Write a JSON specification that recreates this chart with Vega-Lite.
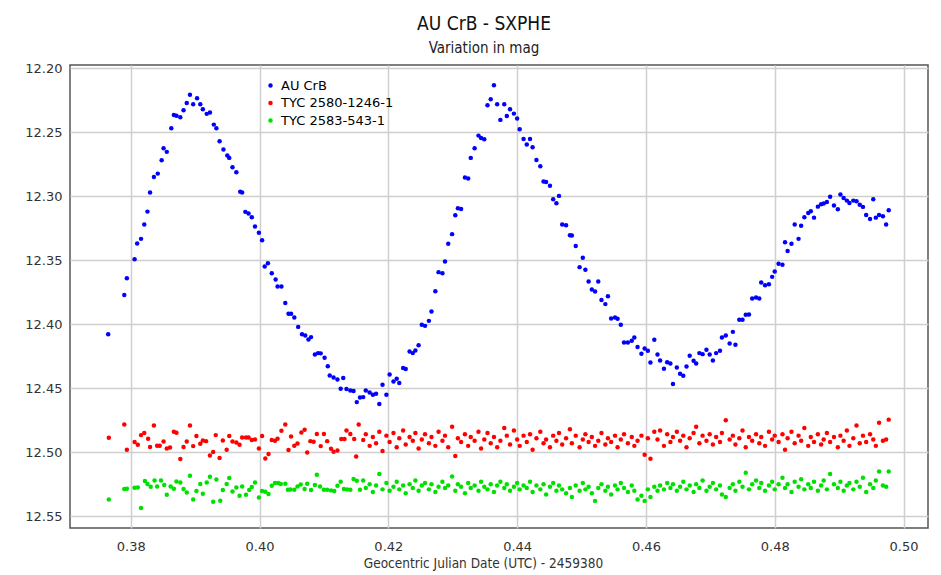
{
"$schema": "https://vega.github.io/schema/vega-lite/v6.json",
"width": 858, "height": 463,
"autosize": {"type": "none"},
"padding": {"left": 70, "top": 65, "right": 13, "bottom": 47},
"background": "white",
"config": {
  "font": "DejaVu Sans Condensed, DejaVu Sans, sans-serif",
  "view": {"stroke": "#555555", "strokeWidth": 1.5},
  "axis": {"domain": false, "ticks": false, "gridColor": "#cfcfcf", "gridWidth": 1.5, "labelFont": "DejaVu Sans", "labelFontSize": 13, "labelColor": "#333333", "titleFontSize": 13.5, "titleColor": "#333333", "titleFontWeight": "normal"},
  "legend": {"labelFont": "DejaVu Sans"}
},
"title": {"text": "AU CrB - SXPHE", "subtitle": "Variation in mag", "anchor": "middle", "dx": -15, "fontSize": 19, "fontWeight": "normal", "color": "#111111", "subtitleFontSize": 15, "subtitleColor": "#222222", "subtitlePadding": 7, "offset": 6},
"data": {"values": [
{"t":0.3765,"m":12.4077,"s":"AU CrB"},{"t":0.3790,"m":12.3770,"s":"AU CrB"},{"t":0.3794,"m":12.3639,"s":"AU CrB"},{"t":0.3806,"m":12.3491,"s":"AU CrB"},{"t":0.3810,"m":12.3369,"s":"AU CrB"},{"t":0.3816,"m":12.3332,"s":"AU CrB"},{"t":0.3821,"m":12.3220,"s":"AU CrB"},{"t":0.3826,"m":12.3119,"s":"AU CrB"},{"t":0.3830,"m":12.2970,"s":"AU CrB"},{"t":0.3836,"m":12.2848,"s":"AU CrB"},{"t":0.3842,"m":12.2822,"s":"AU CrB"},{"t":0.3848,"m":12.2717,"s":"AU CrB"},{"t":0.3851,"m":12.2623,"s":"AU CrB"},{"t":0.3856,"m":12.2652,"s":"AU CrB"},{"t":0.3863,"m":12.2467,"s":"AU CrB"},{"t":0.3867,"m":12.2363,"s":"AU CrB"},{"t":0.3871,"m":12.2369,"s":"AU CrB"},{"t":0.3877,"m":12.2381,"s":"AU CrB"},{"t":0.3882,"m":12.2327,"s":"AU CrB"},{"t":0.3887,"m":12.2270,"s":"AU CrB"},{"t":0.3892,"m":12.2205,"s":"AU CrB"},{"t":0.3897,"m":12.2280,"s":"AU CrB"},{"t":0.3903,"m":12.2233,"s":"AU CrB"},{"t":0.3908,"m":12.2280,"s":"AU CrB"},{"t":0.3912,"m":12.2319,"s":"AU CrB"},{"t":0.3918,"m":12.2355,"s":"AU CrB"},{"t":0.3923,"m":12.2345,"s":"AU CrB"},{"t":0.3929,"m":12.2439,"s":"AU CrB"},{"t":0.3933,"m":12.2467,"s":"AU CrB"},{"t":0.3938,"m":12.2569,"s":"AU CrB"},{"t":0.3944,"m":12.2634,"s":"AU CrB"},{"t":0.3950,"m":12.2681,"s":"AU CrB"},{"t":0.3953,"m":12.2699,"s":"AU CrB"},{"t":0.3958,"m":12.2772,"s":"AU CrB"},{"t":0.3964,"m":12.2811,"s":"AU CrB"},{"t":0.3970,"m":12.2963,"s":"AU CrB"},{"t":0.3973,"m":12.2970,"s":"AU CrB"},{"t":0.3978,"m":12.3121,"s":"AU CrB"},{"t":0.3983,"m":12.3134,"s":"AU CrB"},{"t":0.3988,"m":12.3163,"s":"AU CrB"},{"t":0.3993,"m":12.3236,"s":"AU CrB"},{"t":0.3999,"m":12.3285,"s":"AU CrB"},{"t":0.4004,"m":12.3342,"s":"AU CrB"},{"t":0.4008,"m":12.3548,"s":"AU CrB"},{"t":0.4013,"m":12.3522,"s":"AU CrB"},{"t":0.4019,"m":12.3600,"s":"AU CrB"},{"t":0.4025,"m":12.3650,"s":"AU CrB"},{"t":0.4028,"m":12.3705,"s":"AU CrB"},{"t":0.4034,"m":12.3705,"s":"AU CrB"},{"t":0.4040,"m":12.3834,"s":"AU CrB"},{"t":0.4045,"m":12.3918,"s":"AU CrB"},{"t":0.4049,"m":12.3918,"s":"AU CrB"},{"t":0.4054,"m":12.3947,"s":"AU CrB"},{"t":0.4060,"m":12.4020,"s":"AU CrB"},{"t":0.4066,"m":12.4077,"s":"AU CrB"},{"t":0.4071,"m":12.4088,"s":"AU CrB"},{"t":0.4076,"m":12.4119,"s":"AU CrB"},{"t":0.4080,"m":12.4100,"s":"AU CrB"},{"t":0.4086,"m":12.4236,"s":"AU CrB"},{"t":0.4091,"m":12.4225,"s":"AU CrB"},{"t":0.4095,"m":12.4227,"s":"AU CrB"},{"t":0.4101,"m":12.4262,"s":"AU CrB"},{"t":0.4106,"m":12.4327,"s":"AU CrB"},{"t":0.4109,"m":12.4400,"s":"AU CrB"},{"t":0.4115,"m":12.4416,"s":"AU CrB"},{"t":0.4121,"m":12.4431,"s":"AU CrB"},{"t":0.4126,"m":12.4504,"s":"AU CrB"},{"t":0.4130,"m":12.4420,"s":"AU CrB"},{"t":0.4135,"m":12.4506,"s":"AU CrB"},{"t":0.4141,"m":12.4517,"s":"AU CrB"},{"t":0.4146,"m":12.4522,"s":"AU CrB"},{"t":0.4151,"m":12.4608,"s":"AU CrB"},{"t":0.4156,"m":12.4572,"s":"AU CrB"},{"t":0.4161,"m":12.4569,"s":"AU CrB"},{"t":0.4165,"m":12.4517,"s":"AU CrB"},{"t":0.4171,"m":12.4533,"s":"AU CrB"},{"t":0.4176,"m":12.4551,"s":"AU CrB"},{"t":0.4181,"m":12.4543,"s":"AU CrB"},{"t":0.4186,"m":12.4623,"s":"AU CrB"},{"t":0.4191,"m":12.4473,"s":"AU CrB"},{"t":0.4197,"m":12.4551,"s":"AU CrB"},{"t":0.4202,"m":12.4392,"s":"AU CrB"},{"t":0.4208,"m":12.4447,"s":"AU CrB"},{"t":0.4213,"m":12.4426,"s":"AU CrB"},{"t":0.4217,"m":12.4459,"s":"AU CrB"},{"t":0.4223,"m":12.4342,"s":"AU CrB"},{"t":0.4227,"m":12.4350,"s":"AU CrB"},{"t":0.4233,"m":12.4213,"s":"AU CrB"},{"t":0.4238,"m":12.4225,"s":"AU CrB"},{"t":0.4242,"m":12.4205,"s":"AU CrB"},{"t":0.4247,"m":12.4163,"s":"AU CrB"},{"t":0.4252,"m":12.4004,"s":"AU CrB"},{"t":0.4257,"m":12.4012,"s":"AU CrB"},{"t":0.4263,"m":12.3973,"s":"AU CrB"},{"t":0.4267,"m":12.3900,"s":"AU CrB"},{"t":0.4273,"m":12.3741,"s":"AU CrB"},{"t":0.4278,"m":12.3592,"s":"AU CrB"},{"t":0.4284,"m":12.3600,"s":"AU CrB"},{"t":0.4288,"m":12.3509,"s":"AU CrB"},{"t":0.4293,"m":12.3371,"s":"AU CrB"},{"t":0.4299,"m":12.3295,"s":"AU CrB"},{"t":0.4304,"m":12.3147,"s":"AU CrB"},{"t":0.4308,"m":12.3092,"s":"AU CrB"},{"t":0.4313,"m":12.3098,"s":"AU CrB"},{"t":0.4319,"m":12.2853,"s":"AU CrB"},{"t":0.4324,"m":12.2861,"s":"AU CrB"},{"t":0.4328,"m":12.2699,"s":"AU CrB"},{"t":0.4334,"m":12.2623,"s":"AU CrB"},{"t":0.4340,"m":12.2525,"s":"AU CrB"},{"t":0.4344,"m":12.2543,"s":"AU CrB"},{"t":0.4349,"m":12.2553,"s":"AU CrB"},{"t":0.4354,"m":12.2288,"s":"AU CrB"},{"t":0.4359,"m":12.2241,"s":"AU CrB"},{"t":0.4364,"m":12.2131,"s":"AU CrB"},{"t":0.4369,"m":12.2280,"s":"AU CrB"},{"t":0.4374,"m":12.2402,"s":"AU CrB"},{"t":0.4380,"m":12.2280,"s":"AU CrB"},{"t":0.4384,"m":12.2371,"s":"AU CrB"},{"t":0.4389,"m":12.2319,"s":"AU CrB"},{"t":0.4395,"m":12.2353,"s":"AU CrB"},{"t":0.4400,"m":12.2392,"s":"AU CrB"},{"t":0.4404,"m":12.2475,"s":"AU CrB"},{"t":0.4410,"m":12.2551,"s":"AU CrB"},{"t":0.4415,"m":12.2595,"s":"AU CrB"},{"t":0.4420,"m":12.2551,"s":"AU CrB"},{"t":0.4424,"m":12.2616,"s":"AU CrB"},{"t":0.4430,"m":12.2715,"s":"AU CrB"},{"t":0.4436,"m":12.2764,"s":"AU CrB"},{"t":0.4441,"m":12.2884,"s":"AU CrB"},{"t":0.4445,"m":12.2887,"s":"AU CrB"},{"t":0.4451,"m":12.2916,"s":"AU CrB"},{"t":0.4456,"m":12.3022,"s":"AU CrB"},{"t":0.4461,"m":12.3053,"s":"AU CrB"},{"t":0.4465,"m":12.2996,"s":"AU CrB"},{"t":0.4470,"m":12.3220,"s":"AU CrB"},{"t":0.4476,"m":12.3225,"s":"AU CrB"},{"t":0.4482,"m":12.3303,"s":"AU CrB"},{"t":0.4485,"m":12.3306,"s":"AU CrB"},{"t":0.4491,"m":12.3387,"s":"AU CrB"},{"t":0.4497,"m":12.3553,"s":"AU CrB"},{"t":0.4502,"m":12.3480,"s":"AU CrB"},{"t":0.4506,"m":12.3574,"s":"AU CrB"},{"t":0.4511,"m":12.3666,"s":"AU CrB"},{"t":0.4516,"m":12.3728,"s":"AU CrB"},{"t":0.4521,"m":12.3744,"s":"AU CrB"},{"t":0.4526,"m":12.3666,"s":"AU CrB"},{"t":0.4531,"m":12.3809,"s":"AU CrB"},{"t":0.4537,"m":12.3842,"s":"AU CrB"},{"t":0.4541,"m":12.3780,"s":"AU CrB"},{"t":0.4546,"m":12.3955,"s":"AU CrB"},{"t":0.4552,"m":12.3947,"s":"AU CrB"},{"t":0.4556,"m":12.3957,"s":"AU CrB"},{"t":0.4561,"m":12.4004,"s":"AU CrB"},{"t":0.4566,"m":12.4142,"s":"AU CrB"},{"t":0.4572,"m":12.4142,"s":"AU CrB"},{"t":0.4578,"m":12.4129,"s":"AU CrB"},{"t":0.4582,"m":12.4103,"s":"AU CrB"},{"t":0.4587,"m":12.4178,"s":"AU CrB"},{"t":0.4593,"m":12.4230,"s":"AU CrB"},{"t":0.4598,"m":12.4189,"s":"AU CrB"},{"t":0.4603,"m":12.4207,"s":"AU CrB"},{"t":0.4607,"m":12.4298,"s":"AU CrB"},{"t":0.4613,"m":12.4121,"s":"AU CrB"},{"t":0.4618,"m":12.4236,"s":"AU CrB"},{"t":0.4622,"m":12.4283,"s":"AU CrB"},{"t":0.4628,"m":12.4348,"s":"AU CrB"},{"t":0.4633,"m":12.4297,"s":"AU CrB"},{"t":0.4638,"m":12.4306,"s":"AU CrB"},{"t":0.4642,"m":12.4467,"s":"AU CrB"},{"t":0.4648,"m":12.4338,"s":"AU CrB"},{"t":0.4653,"m":12.4387,"s":"AU CrB"},{"t":0.4658,"m":12.4402,"s":"AU CrB"},{"t":0.4663,"m":12.4330,"s":"AU CrB"},{"t":0.4668,"m":12.4246,"s":"AU CrB"},{"t":0.4674,"m":12.4285,"s":"AU CrB"},{"t":0.4678,"m":12.4306,"s":"AU CrB"},{"t":0.4683,"m":12.4225,"s":"AU CrB"},{"t":0.4688,"m":12.4233,"s":"AU CrB"},{"t":0.4694,"m":12.4199,"s":"AU CrB"},{"t":0.4699,"m":12.4236,"s":"AU CrB"},{"t":0.4704,"m":12.4283,"s":"AU CrB"},{"t":0.4709,"m":12.4225,"s":"AU CrB"},{"t":0.4715,"m":12.4207,"s":"AU CrB"},{"t":0.4718,"m":12.4103,"s":"AU CrB"},{"t":0.4724,"m":12.4088,"s":"AU CrB"},{"t":0.4730,"m":12.4150,"s":"AU CrB"},{"t":0.4735,"m":12.4059,"s":"AU CrB"},{"t":0.4739,"m":12.4160,"s":"AU CrB"},{"t":0.4745,"m":12.3965,"s":"AU CrB"},{"t":0.4750,"m":12.3965,"s":"AU CrB"},{"t":0.4755,"m":12.3926,"s":"AU CrB"},{"t":0.4760,"m":12.3923,"s":"AU CrB"},{"t":0.4765,"m":12.3798,"s":"AU CrB"},{"t":0.4771,"m":12.3791,"s":"AU CrB"},{"t":0.4776,"m":12.3798,"s":"AU CrB"},{"t":0.4779,"m":12.3673,"s":"AU CrB"},{"t":0.4785,"m":12.3694,"s":"AU CrB"},{"t":0.4791,"m":12.3686,"s":"AU CrB"},{"t":0.4796,"m":12.3629,"s":"AU CrB"},{"t":0.4800,"m":12.3587,"s":"AU CrB"},{"t":0.4806,"m":12.3527,"s":"AU CrB"},{"t":0.4812,"m":12.3535,"s":"AU CrB"},{"t":0.4816,"m":12.3358,"s":"AU CrB"},{"t":0.4820,"m":12.3426,"s":"AU CrB"},{"t":0.4826,"m":12.3371,"s":"AU CrB"},{"t":0.4831,"m":12.3220,"s":"AU CrB"},{"t":0.4837,"m":12.3332,"s":"AU CrB"},{"t":0.4841,"m":12.3230,"s":"AU CrB"},{"t":0.4846,"m":12.3163,"s":"AU CrB"},{"t":0.4852,"m":12.3129,"s":"AU CrB"},{"t":0.4856,"m":12.3116,"s":"AU CrB"},{"t":0.4861,"m":12.3166,"s":"AU CrB"},{"t":0.4867,"m":12.3080,"s":"AU CrB"},{"t":0.4872,"m":12.3061,"s":"AU CrB"},{"t":0.4876,"m":12.3056,"s":"AU CrB"},{"t":0.4881,"m":12.3043,"s":"AU CrB"},{"t":0.4886,"m":12.3002,"s":"AU CrB"},{"t":0.4892,"m":12.3072,"s":"AU CrB"},{"t":0.4898,"m":12.3100,"s":"AU CrB"},{"t":0.4902,"m":12.2986,"s":"AU CrB"},{"t":0.4907,"m":12.3012,"s":"AU CrB"},{"t":0.4912,"m":12.3033,"s":"AU CrB"},{"t":0.4916,"m":12.3051,"s":"AU CrB"},{"t":0.4922,"m":12.3033,"s":"AU CrB"},{"t":0.4927,"m":12.3038,"s":"AU CrB"},{"t":0.4932,"m":12.3066,"s":"AU CrB"},{"t":0.4937,"m":12.3082,"s":"AU CrB"},{"t":0.4942,"m":12.3145,"s":"AU CrB"},{"t":0.4948,"m":12.3176,"s":"AU CrB"},{"t":0.4953,"m":12.3022,"s":"AU CrB"},{"t":0.4957,"m":12.3166,"s":"AU CrB"},{"t":0.4962,"m":12.3145,"s":"AU CrB"},{"t":0.4968,"m":12.3155,"s":"AU CrB"},{"t":0.4973,"m":12.3220,"s":"AU CrB"},{"t":0.4977,"m":12.3108,"s":"AU CrB"},
{"t":0.3766,"m":12.4887,"s":"TYC 2580-1246-1"},{"t":0.3790,"m":12.4783,"s":"TYC 2580-1246-1"},{"t":0.3794,"m":12.4980,"s":"TYC 2580-1246-1"},{"t":0.3806,"m":12.4920,"s":"TYC 2580-1246-1"},{"t":0.3811,"m":12.4941,"s":"TYC 2580-1246-1"},{"t":0.3816,"m":12.4866,"s":"TYC 2580-1246-1"},{"t":0.3821,"m":12.4850,"s":"TYC 2580-1246-1"},{"t":0.3827,"m":12.4895,"s":"TYC 2580-1246-1"},{"t":0.3830,"m":12.4959,"s":"TYC 2580-1246-1"},{"t":0.3836,"m":12.4791,"s":"TYC 2580-1246-1"},{"t":0.3841,"m":12.4949,"s":"TYC 2580-1246-1"},{"t":0.3845,"m":12.4949,"s":"TYC 2580-1246-1"},{"t":0.3851,"m":12.4916,"s":"TYC 2580-1246-1"},{"t":0.3856,"m":12.4970,"s":"TYC 2580-1246-1"},{"t":0.3861,"m":12.4963,"s":"TYC 2580-1246-1"},{"t":0.3867,"m":12.4840,"s":"TYC 2580-1246-1"},{"t":0.3871,"m":12.4848,"s":"TYC 2580-1246-1"},{"t":0.3877,"m":12.5053,"s":"TYC 2580-1246-1"},{"t":0.3882,"m":12.4959,"s":"TYC 2580-1246-1"},{"t":0.3887,"m":12.4916,"s":"TYC 2580-1246-1"},{"t":0.3892,"m":12.4791,"s":"TYC 2580-1246-1"},{"t":0.3897,"m":12.4952,"s":"TYC 2580-1246-1"},{"t":0.3902,"m":12.4873,"s":"TYC 2580-1246-1"},{"t":0.3908,"m":12.4934,"s":"TYC 2580-1246-1"},{"t":0.3912,"m":12.4908,"s":"TYC 2580-1246-1"},{"t":0.3917,"m":12.4913,"s":"TYC 2580-1246-1"},{"t":0.3923,"m":12.5025,"s":"TYC 2580-1246-1"},{"t":0.3928,"m":12.4998,"s":"TYC 2580-1246-1"},{"t":0.3932,"m":12.4866,"s":"TYC 2580-1246-1"},{"t":0.3938,"m":12.5045,"s":"TYC 2580-1246-1"},{"t":0.3943,"m":12.4908,"s":"TYC 2580-1246-1"},{"t":0.3949,"m":12.4980,"s":"TYC 2580-1246-1"},{"t":0.3953,"m":12.4873,"s":"TYC 2580-1246-1"},{"t":0.3958,"m":12.4916,"s":"TYC 2580-1246-1"},{"t":0.3964,"m":12.4923,"s":"TYC 2580-1246-1"},{"t":0.3969,"m":12.4941,"s":"TYC 2580-1246-1"},{"t":0.3973,"m":12.4884,"s":"TYC 2580-1246-1"},{"t":0.3979,"m":12.4884,"s":"TYC 2580-1246-1"},{"t":0.3983,"m":12.4884,"s":"TYC 2580-1246-1"},{"t":0.3988,"m":12.4905,"s":"TYC 2580-1246-1"},{"t":0.3993,"m":12.4900,"s":"TYC 2580-1246-1"},{"t":0.3999,"m":12.4970,"s":"TYC 2580-1246-1"},{"t":0.4004,"m":12.4873,"s":"TYC 2580-1246-1"},{"t":0.4009,"m":12.5048,"s":"TYC 2580-1246-1"},{"t":0.4014,"m":12.5014,"s":"TYC 2580-1246-1"},{"t":0.4019,"m":12.4905,"s":"TYC 2580-1246-1"},{"t":0.4024,"m":12.4910,"s":"TYC 2580-1246-1"},{"t":0.4028,"m":12.4895,"s":"TYC 2580-1246-1"},{"t":0.4034,"m":12.4832,"s":"TYC 2580-1246-1"},{"t":0.4040,"m":12.4783,"s":"TYC 2580-1246-1"},{"t":0.4045,"m":12.4983,"s":"TYC 2580-1246-1"},{"t":0.4049,"m":12.4877,"s":"TYC 2580-1246-1"},{"t":0.4054,"m":12.4949,"s":"TYC 2580-1246-1"},{"t":0.4059,"m":12.4931,"s":"TYC 2580-1246-1"},{"t":0.4065,"m":12.4845,"s":"TYC 2580-1246-1"},{"t":0.4070,"m":12.4824,"s":"TYC 2580-1246-1"},{"t":0.4074,"m":12.5002,"s":"TYC 2580-1246-1"},{"t":0.4079,"m":12.4913,"s":"TYC 2580-1246-1"},{"t":0.4084,"m":12.4918,"s":"TYC 2580-1246-1"},{"t":0.4089,"m":12.4858,"s":"TYC 2580-1246-1"},{"t":0.4095,"m":12.4952,"s":"TYC 2580-1246-1"},{"t":0.4100,"m":12.4858,"s":"TYC 2580-1246-1"},{"t":0.4105,"m":12.4913,"s":"TYC 2580-1246-1"},{"t":0.4111,"m":12.4973,"s":"TYC 2580-1246-1"},{"t":0.4115,"m":12.4996,"s":"TYC 2580-1246-1"},{"t":0.4121,"m":12.4986,"s":"TYC 2580-1246-1"},{"t":0.4127,"m":12.4897,"s":"TYC 2580-1246-1"},{"t":0.4132,"m":12.4897,"s":"TYC 2580-1246-1"},{"t":0.4135,"m":12.4830,"s":"TYC 2580-1246-1"},{"t":0.4141,"m":12.4858,"s":"TYC 2580-1246-1"},{"t":0.4147,"m":12.4897,"s":"TYC 2580-1246-1"},{"t":0.4150,"m":12.5033,"s":"TYC 2580-1246-1"},{"t":0.4154,"m":12.4783,"s":"TYC 2580-1246-1"},
{"t":0.4161,"m":12.4905,"s":"TYC 2580-1246-1"},{"t":0.4165,"m":12.4860,"s":"TYC 2580-1246-1"},{"t":0.4171,"m":12.4950,"s":"TYC 2580-1246-1"},{"t":0.4176,"m":12.4880,"s":"TYC 2580-1246-1"},{"t":0.4181,"m":12.4930,"s":"TYC 2580-1246-1"},{"t":0.4186,"m":12.4840,"s":"TYC 2580-1246-1"},{"t":0.4191,"m":12.4990,"s":"TYC 2580-1246-1"},{"t":0.4197,"m":12.4870,"s":"TYC 2580-1246-1"},{"t":0.4202,"m":12.4920,"s":"TYC 2580-1246-1"},{"t":0.4208,"m":12.4850,"s":"TYC 2580-1246-1"},
{"t":0.4213,"m":12.4960,"s":"TYC 2580-1246-1"},{"t":0.4217,"m":12.4890,"s":"TYC 2580-1246-1"},{"t":0.4223,"m":12.4830,"s":"TYC 2580-1246-1"},{"t":0.4227,"m":12.4940,"s":"TYC 2580-1246-1"},{"t":0.4233,"m":12.4880,"s":"TYC 2580-1246-1"},{"t":0.4238,"m":12.4910,"s":"TYC 2580-1246-1"},{"t":0.4242,"m":12.4850,"s":"TYC 2580-1246-1"},{"t":0.4247,"m":12.4970,"s":"TYC 2580-1246-1"},{"t":0.4252,"m":12.4900,"s":"TYC 2580-1246-1"},{"t":0.4257,"m":12.4860,"s":"TYC 2580-1246-1"},
{"t":0.4263,"m":12.4930,"s":"TYC 2580-1246-1"},{"t":0.4267,"m":12.4880,"s":"TYC 2580-1246-1"},{"t":0.4273,"m":12.4950,"s":"TYC 2580-1246-1"},{"t":0.4278,"m":12.4840,"s":"TYC 2580-1246-1"},{"t":0.4284,"m":12.4910,"s":"TYC 2580-1246-1"},{"t":0.4288,"m":12.4870,"s":"TYC 2580-1246-1"},{"t":0.4293,"m":12.4960,"s":"TYC 2580-1246-1"},{"t":0.4299,"m":12.4800,"s":"TYC 2580-1246-1"},{"t":0.4304,"m":12.5030,"s":"TYC 2580-1246-1"},{"t":0.4308,"m":12.4890,"s":"TYC 2580-1246-1"},
{"t":0.4313,"m":12.4920,"s":"TYC 2580-1246-1"},{"t":0.4319,"m":12.4860,"s":"TYC 2580-1246-1"},{"t":0.4324,"m":12.4950,"s":"TYC 2580-1246-1"},{"t":0.4328,"m":12.4880,"s":"TYC 2580-1246-1"},{"t":0.4334,"m":12.4910,"s":"TYC 2580-1246-1"},{"t":0.4340,"m":12.4840,"s":"TYC 2580-1246-1"},{"t":0.4344,"m":12.4970,"s":"TYC 2580-1246-1"},{"t":0.4349,"m":12.4900,"s":"TYC 2580-1246-1"},{"t":0.4354,"m":12.4850,"s":"TYC 2580-1246-1"},{"t":0.4359,"m":12.4930,"s":"TYC 2580-1246-1"},
{"t":0.4364,"m":12.4880,"s":"TYC 2580-1246-1"},{"t":0.4369,"m":12.4960,"s":"TYC 2580-1246-1"},{"t":0.4374,"m":12.4910,"s":"TYC 2580-1246-1"},{"t":0.4380,"m":12.4810,"s":"TYC 2580-1246-1"},{"t":0.4384,"m":12.4870,"s":"TYC 2580-1246-1"},{"t":0.4389,"m":12.4940,"s":"TYC 2580-1246-1"},{"t":0.4395,"m":12.4830,"s":"TYC 2580-1246-1"},{"t":0.4400,"m":12.4900,"s":"TYC 2580-1246-1"},{"t":0.4404,"m":12.4950,"s":"TYC 2580-1246-1"},{"t":0.4410,"m":12.4870,"s":"TYC 2580-1246-1"},
{"t":0.4415,"m":12.4920,"s":"TYC 2580-1246-1"},{"t":0.4420,"m":12.4860,"s":"TYC 2580-1246-1"},{"t":0.4424,"m":12.4980,"s":"TYC 2580-1246-1"},{"t":0.4430,"m":12.4890,"s":"TYC 2580-1246-1"},{"t":0.4436,"m":12.4840,"s":"TYC 2580-1246-1"},{"t":0.4441,"m":12.4930,"s":"TYC 2580-1246-1"},{"t":0.4445,"m":12.4900,"s":"TYC 2580-1246-1"},{"t":0.4451,"m":12.4960,"s":"TYC 2580-1246-1"},{"t":0.4456,"m":12.4870,"s":"TYC 2580-1246-1"},{"t":0.4461,"m":12.4910,"s":"TYC 2580-1246-1"},
{"t":0.4465,"m":12.4850,"s":"TYC 2580-1246-1"},{"t":0.4470,"m":12.4940,"s":"TYC 2580-1246-1"},{"t":0.4476,"m":12.4890,"s":"TYC 2580-1246-1"},{"t":0.4482,"m":12.4820,"s":"TYC 2580-1246-1"},{"t":0.4485,"m":12.4930,"s":"TYC 2580-1246-1"},{"t":0.4491,"m":12.4870,"s":"TYC 2580-1246-1"},{"t":0.4497,"m":12.4960,"s":"TYC 2580-1246-1"},{"t":0.4502,"m":12.4900,"s":"TYC 2580-1246-1"},{"t":0.4506,"m":12.4860,"s":"TYC 2580-1246-1"},{"t":0.4511,"m":12.4920,"s":"TYC 2580-1246-1"},
{"t":0.4516,"m":12.4880,"s":"TYC 2580-1246-1"},{"t":0.4521,"m":12.4950,"s":"TYC 2580-1246-1"},{"t":0.4526,"m":12.4910,"s":"TYC 2580-1246-1"},{"t":0.4531,"m":12.4850,"s":"TYC 2580-1246-1"},{"t":0.4537,"m":12.4940,"s":"TYC 2580-1246-1"},{"t":0.4541,"m":12.4890,"s":"TYC 2580-1246-1"},{"t":0.4546,"m":12.4920,"s":"TYC 2580-1246-1"},{"t":0.4552,"m":12.4870,"s":"TYC 2580-1246-1"},{"t":0.4556,"m":12.4960,"s":"TYC 2580-1246-1"},{"t":0.4561,"m":12.4900,"s":"TYC 2580-1246-1"},
{"t":0.4566,"m":12.4860,"s":"TYC 2580-1246-1"},{"t":0.4572,"m":12.4930,"s":"TYC 2580-1246-1"},{"t":0.4578,"m":12.4880,"s":"TYC 2580-1246-1"},{"t":0.4582,"m":12.4950,"s":"TYC 2580-1246-1"},{"t":0.4587,"m":12.4910,"s":"TYC 2580-1246-1"},{"t":0.4593,"m":12.4870,"s":"TYC 2580-1246-1"},{"t":0.4598,"m":12.5020,"s":"TYC 2580-1246-1"},{"t":0.4603,"m":12.4890,"s":"TYC 2580-1246-1"},{"t":0.4607,"m":12.5050,"s":"TYC 2580-1246-1"},{"t":0.4613,"m":12.4840,"s":"TYC 2580-1246-1"},
{"t":0.4618,"m":12.4900,"s":"TYC 2580-1246-1"},{"t":0.4622,"m":12.4830,"s":"TYC 2580-1246-1"},{"t":0.4628,"m":12.4950,"s":"TYC 2580-1246-1"},{"t":0.4633,"m":12.4860,"s":"TYC 2580-1246-1"},{"t":0.4638,"m":12.4920,"s":"TYC 2580-1246-1"},{"t":0.4642,"m":12.4880,"s":"TYC 2580-1246-1"},{"t":0.4648,"m":12.4840,"s":"TYC 2580-1246-1"},{"t":0.4653,"m":12.4910,"s":"TYC 2580-1246-1"},{"t":0.4658,"m":12.4870,"s":"TYC 2580-1246-1"},{"t":0.4663,"m":12.4960,"s":"TYC 2580-1246-1"},
{"t":0.4668,"m":12.4890,"s":"TYC 2580-1246-1"},{"t":0.4674,"m":12.4850,"s":"TYC 2580-1246-1"},{"t":0.4678,"m":12.4800,"s":"TYC 2580-1246-1"},{"t":0.4683,"m":12.4930,"s":"TYC 2580-1246-1"},{"t":0.4688,"m":12.4870,"s":"TYC 2580-1246-1"},{"t":0.4694,"m":12.4910,"s":"TYC 2580-1246-1"},{"t":0.4699,"m":12.4860,"s":"TYC 2580-1246-1"},{"t":0.4704,"m":12.4940,"s":"TYC 2580-1246-1"},{"t":0.4709,"m":12.4880,"s":"TYC 2580-1246-1"},{"t":0.4715,"m":12.4920,"s":"TYC 2580-1246-1"},
{"t":0.4718,"m":12.4850,"s":"TYC 2580-1246-1"},{"t":0.4724,"m":12.4750,"s":"TYC 2580-1246-1"},{"t":0.4730,"m":12.4900,"s":"TYC 2580-1246-1"},{"t":0.4735,"m":12.4870,"s":"TYC 2580-1246-1"},{"t":0.4739,"m":12.4940,"s":"TYC 2580-1246-1"},{"t":0.4745,"m":12.4890,"s":"TYC 2580-1246-1"},{"t":0.4750,"m":12.4830,"s":"TYC 2580-1246-1"},{"t":0.4755,"m":12.4960,"s":"TYC 2580-1246-1"},{"t":0.4760,"m":12.4880,"s":"TYC 2580-1246-1"},{"t":0.4765,"m":12.4910,"s":"TYC 2580-1246-1"},
{"t":0.4771,"m":12.4860,"s":"TYC 2580-1246-1"},{"t":0.4776,"m":12.4930,"s":"TYC 2580-1246-1"},{"t":0.4779,"m":12.4880,"s":"TYC 2580-1246-1"},{"t":0.4785,"m":12.4950,"s":"TYC 2580-1246-1"},{"t":0.4791,"m":12.4840,"s":"TYC 2580-1246-1"},{"t":0.4796,"m":12.4900,"s":"TYC 2580-1246-1"},{"t":0.4800,"m":12.4870,"s":"TYC 2580-1246-1"},{"t":0.4806,"m":12.4920,"s":"TYC 2580-1246-1"},{"t":0.4812,"m":12.4860,"s":"TYC 2580-1246-1"},{"t":0.4816,"m":12.4980,"s":"TYC 2580-1246-1"},
{"t":0.4820,"m":12.4890,"s":"TYC 2580-1246-1"},{"t":0.4826,"m":12.4840,"s":"TYC 2580-1246-1"},{"t":0.4831,"m":12.4930,"s":"TYC 2580-1246-1"},{"t":0.4837,"m":12.4870,"s":"TYC 2580-1246-1"},{"t":0.4841,"m":12.4910,"s":"TYC 2580-1246-1"},{"t":0.4846,"m":12.4810,"s":"TYC 2580-1246-1"},{"t":0.4852,"m":12.4950,"s":"TYC 2580-1246-1"},{"t":0.4856,"m":12.4880,"s":"TYC 2580-1246-1"},{"t":0.4861,"m":12.4920,"s":"TYC 2580-1246-1"},{"t":0.4867,"m":12.4860,"s":"TYC 2580-1246-1"},
{"t":0.4872,"m":12.4940,"s":"TYC 2580-1246-1"},{"t":0.4876,"m":12.4900,"s":"TYC 2580-1246-1"},{"t":0.4881,"m":12.4850,"s":"TYC 2580-1246-1"},{"t":0.4886,"m":12.4920,"s":"TYC 2580-1246-1"},{"t":0.4892,"m":12.4880,"s":"TYC 2580-1246-1"},{"t":0.4898,"m":12.4960,"s":"TYC 2580-1246-1"},{"t":0.4902,"m":12.4870,"s":"TYC 2580-1246-1"},{"t":0.4907,"m":12.4910,"s":"TYC 2580-1246-1"},{"t":0.4912,"m":12.4830,"s":"TYC 2580-1246-1"},{"t":0.4916,"m":12.4950,"s":"TYC 2580-1246-1"},
{"t":0.4922,"m":12.4890,"s":"TYC 2580-1246-1"},{"t":0.4927,"m":12.4790,"s":"TYC 2580-1246-1"},{"t":0.4932,"m":12.4930,"s":"TYC 2580-1246-1"},{"t":0.4937,"m":12.4870,"s":"TYC 2580-1246-1"},{"t":0.4942,"m":12.4920,"s":"TYC 2580-1246-1"},{"t":0.4948,"m":12.4860,"s":"TYC 2580-1246-1"},{"t":0.4953,"m":12.4900,"s":"TYC 2580-1246-1"},{"t":0.4957,"m":12.4950,"s":"TYC 2580-1246-1"},{"t":0.4962,"m":12.4770,"s":"TYC 2580-1246-1"},{"t":0.4968,"m":12.4910,"s":"TYC 2580-1246-1"},{"t":0.4973,"m":12.4900,"s":"TYC 2580-1246-1"},{"t":0.4977,"m":12.4745,"s":"TYC 2580-1246-1"},
{"t":0.3766,"m":12.5369,"s":"TYC 2583-543-1"},{"t":0.3790,"m":12.5288,"s":"TYC 2583-543-1"},{"t":0.3794,"m":12.5285,"s":"TYC 2583-543-1"},{"t":0.3806,"m":12.5277,"s":"TYC 2583-543-1"},{"t":0.3811,"m":12.5275,"s":"TYC 2583-543-1"},{"t":0.3816,"m":12.5436,"s":"TYC 2583-543-1"},{"t":0.3822,"m":12.5225,"s":"TYC 2583-543-1"},{"t":0.3826,"m":12.5248,"s":"TYC 2583-543-1"},{"t":0.3831,"m":12.5270,"s":"TYC 2583-543-1"},{"t":0.3837,"m":12.5220,"s":"TYC 2583-543-1"},{"t":0.3841,"m":12.5267,"s":"TYC 2583-543-1"},{"t":0.3847,"m":12.5220,"s":"TYC 2583-543-1"},{"t":0.3852,"m":12.5256,"s":"TYC 2583-543-1"},{"t":0.3856,"m":12.5332,"s":"TYC 2583-543-1"},{"t":0.3862,"m":12.5267,"s":"TYC 2583-543-1"},{"t":0.3867,"m":12.5285,"s":"TYC 2583-543-1"},{"t":0.3871,"m":12.5228,"s":"TYC 2583-543-1"},{"t":0.3877,"m":12.5236,"s":"TYC 2583-543-1"},{"t":0.3882,"m":12.5288,"s":"TYC 2583-543-1"},{"t":0.3887,"m":12.5314,"s":"TYC 2583-543-1"},{"t":0.3892,"m":12.5184,"s":"TYC 2583-543-1"},{"t":0.3897,"m":12.5369,"s":"TYC 2583-543-1"},{"t":0.3902,"m":12.5303,"s":"TYC 2583-543-1"},{"t":0.3908,"m":12.5248,"s":"TYC 2583-543-1"},{"t":0.3912,"m":12.5324,"s":"TYC 2583-543-1"},{"t":0.3918,"m":12.5236,"s":"TYC 2583-543-1"},{"t":0.3923,"m":12.5191,"s":"TYC 2583-543-1"},{"t":0.3928,"m":12.5387,"s":"TYC 2583-543-1"},{"t":0.3933,"m":12.5213,"s":"TYC 2583-543-1"},{"t":0.3939,"m":12.5379,"s":"TYC 2583-543-1"},{"t":0.3943,"m":12.5295,"s":"TYC 2583-543-1"},{"t":0.3949,"m":12.5248,"s":"TYC 2583-543-1"},{"t":0.3953,"m":12.5202,"s":"TYC 2583-543-1"},{"t":0.3958,"m":12.5306,"s":"TYC 2583-543-1"},{"t":0.3964,"m":12.5275,"s":"TYC 2583-543-1"},{"t":0.3969,"m":12.5340,"s":"TYC 2583-543-1"},{"t":0.3973,"m":12.5267,"s":"TYC 2583-543-1"},{"t":0.3979,"m":12.5332,"s":"TYC 2583-543-1"},{"t":0.3984,"m":12.5295,"s":"TYC 2583-543-1"},{"t":0.3988,"m":12.5272,"s":"TYC 2583-543-1"},{"t":0.3993,"m":12.5236,"s":"TYC 2583-543-1"},{"t":0.3999,"m":12.5353,"s":"TYC 2583-543-1"},{"t":0.4004,"m":12.5303,"s":"TYC 2583-543-1"},{"t":0.4009,"m":12.5309,"s":"TYC 2583-543-1"},{"t":0.4014,"m":12.5327,"s":"TYC 2583-543-1"},{"t":0.4019,"m":12.5262,"s":"TYC 2583-543-1"},{"t":0.4024,"m":12.5241,"s":"TYC 2583-543-1"},{"t":0.4029,"m":12.5241,"s":"TYC 2583-543-1"},{"t":0.4033,"m":12.5248,"s":"TYC 2583-543-1"},{"t":0.4040,"m":12.5246,"s":"TYC 2583-543-1"},{"t":0.4044,"m":12.5293,"s":"TYC 2583-543-1"},{"t":0.4048,"m":12.5291,"s":"TYC 2583-543-1"},{"t":0.4054,"m":12.5293,"s":"TYC 2583-543-1"},{"t":0.4059,"m":12.5267,"s":"TYC 2583-543-1"},{"t":0.4064,"m":12.5252,"s":"TYC 2583-543-1"},{"t":0.4070,"m":12.5288,"s":"TYC 2583-543-1"},{"t":0.4074,"m":12.5246,"s":"TYC 2583-543-1"},{"t":0.4080,"m":12.5295,"s":"TYC 2583-543-1"},{"t":0.4086,"m":12.5256,"s":"TYC 2583-543-1"},{"t":0.4089,"m":12.5176,"s":"TYC 2583-543-1"},{"t":0.4094,"m":12.5267,"s":"TYC 2583-543-1"},{"t":0.4100,"m":12.5293,"s":"TYC 2583-543-1"},{"t":0.4105,"m":12.5293,"s":"TYC 2583-543-1"},{"t":0.4111,"m":12.5298,"s":"TYC 2583-543-1"},{"t":0.4116,"m":12.5303,"s":"TYC 2583-543-1"},{"t":0.4121,"m":12.5262,"s":"TYC 2583-543-1"},{"t":0.4126,"m":12.5230,"s":"TYC 2583-543-1"},{"t":0.4131,"m":12.5288,"s":"TYC 2583-543-1"},{"t":0.4136,"m":12.5291,"s":"TYC 2583-543-1"},{"t":0.4141,"m":12.5293,"s":"TYC 2583-543-1"},{"t":0.4146,"m":12.5209,"s":"TYC 2583-543-1"},{"t":0.4151,"m":12.5223,"s":"TYC 2583-543-1"},{"t":0.4156,"m":12.5293,"s":"TYC 2583-543-1"},
{"t":0.4161,"m":12.5220,"s":"TYC 2583-543-1"},{"t":0.4165,"m":12.5280,"s":"TYC 2583-543-1"},{"t":0.4171,"m":12.5250,"s":"TYC 2583-543-1"},{"t":0.4176,"m":12.5310,"s":"TYC 2583-543-1"},{"t":0.4181,"m":12.5260,"s":"TYC 2583-543-1"},{"t":0.4186,"m":12.5170,"s":"TYC 2583-543-1"},{"t":0.4191,"m":12.5290,"s":"TYC 2583-543-1"},{"t":0.4197,"m":12.5240,"s":"TYC 2583-543-1"},{"t":0.4202,"m":12.5300,"s":"TYC 2583-543-1"},{"t":0.4208,"m":12.5270,"s":"TYC 2583-543-1"},
{"t":0.4213,"m":12.5230,"s":"TYC 2583-543-1"},{"t":0.4217,"m":12.5290,"s":"TYC 2583-543-1"},{"t":0.4223,"m":12.5260,"s":"TYC 2583-543-1"},{"t":0.4227,"m":12.5320,"s":"TYC 2583-543-1"},{"t":0.4233,"m":12.5250,"s":"TYC 2583-543-1"},{"t":0.4238,"m":12.5280,"s":"TYC 2583-543-1"},{"t":0.4242,"m":12.5220,"s":"TYC 2583-543-1"},{"t":0.4247,"m":12.5300,"s":"TYC 2583-543-1"},{"t":0.4252,"m":12.5260,"s":"TYC 2583-543-1"},{"t":0.4257,"m":12.5240,"s":"TYC 2583-543-1"},
{"t":0.4263,"m":12.5290,"s":"TYC 2583-543-1"},{"t":0.4267,"m":12.5250,"s":"TYC 2583-543-1"},{"t":0.4273,"m":12.5310,"s":"TYC 2583-543-1"},{"t":0.4278,"m":12.5270,"s":"TYC 2583-543-1"},{"t":0.4284,"m":12.5230,"s":"TYC 2583-543-1"},{"t":0.4288,"m":12.5280,"s":"TYC 2583-543-1"},{"t":0.4293,"m":12.5260,"s":"TYC 2583-543-1"},{"t":0.4299,"m":12.5190,"s":"TYC 2583-543-1"},{"t":0.4304,"m":12.5300,"s":"TYC 2583-543-1"},{"t":0.4308,"m":12.5250,"s":"TYC 2583-543-1"},
{"t":0.4313,"m":12.5270,"s":"TYC 2583-543-1"},{"t":0.4319,"m":12.5320,"s":"TYC 2583-543-1"},{"t":0.4324,"m":12.5240,"s":"TYC 2583-543-1"},{"t":0.4328,"m":12.5280,"s":"TYC 2583-543-1"},{"t":0.4334,"m":12.5260,"s":"TYC 2583-543-1"},{"t":0.4340,"m":12.5300,"s":"TYC 2583-543-1"},{"t":0.4344,"m":12.5230,"s":"TYC 2583-543-1"},{"t":0.4349,"m":12.5270,"s":"TYC 2583-543-1"},{"t":0.4354,"m":12.5290,"s":"TYC 2583-543-1"},{"t":0.4359,"m":12.5250,"s":"TYC 2583-543-1"},
{"t":0.4364,"m":12.5310,"s":"TYC 2583-543-1"},{"t":0.4369,"m":12.5260,"s":"TYC 2583-543-1"},{"t":0.4374,"m":12.5230,"s":"TYC 2583-543-1"},{"t":0.4380,"m":12.5280,"s":"TYC 2583-543-1"},{"t":0.4384,"m":12.5250,"s":"TYC 2583-543-1"},{"t":0.4389,"m":12.5300,"s":"TYC 2583-543-1"},{"t":0.4395,"m":12.5270,"s":"TYC 2583-543-1"},{"t":0.4400,"m":12.5240,"s":"TYC 2583-543-1"},{"t":0.4404,"m":12.5290,"s":"TYC 2583-543-1"},{"t":0.4410,"m":12.5260,"s":"TYC 2583-543-1"},
{"t":0.4415,"m":12.5280,"s":"TYC 2583-543-1"},{"t":0.4420,"m":12.5230,"s":"TYC 2583-543-1"},{"t":0.4424,"m":12.5310,"s":"TYC 2583-543-1"},{"t":0.4430,"m":12.5260,"s":"TYC 2583-543-1"},{"t":0.4436,"m":12.5290,"s":"TYC 2583-543-1"},{"t":0.4441,"m":12.5250,"s":"TYC 2583-543-1"},{"t":0.4445,"m":12.5330,"s":"TYC 2583-543-1"},{"t":0.4451,"m":12.5270,"s":"TYC 2583-543-1"},{"t":0.4456,"m":12.5240,"s":"TYC 2583-543-1"},{"t":0.4461,"m":12.5300,"s":"TYC 2583-543-1"},
{"t":0.4465,"m":12.5260,"s":"TYC 2583-543-1"},{"t":0.4470,"m":12.5290,"s":"TYC 2583-543-1"},{"t":0.4476,"m":12.5320,"s":"TYC 2583-543-1"},{"t":0.4482,"m":12.5280,"s":"TYC 2583-543-1"},{"t":0.4485,"m":12.5350,"s":"TYC 2583-543-1"},{"t":0.4491,"m":12.5260,"s":"TYC 2583-543-1"},{"t":0.4497,"m":12.5300,"s":"TYC 2583-543-1"},{"t":0.4502,"m":12.5240,"s":"TYC 2583-543-1"},{"t":0.4506,"m":12.5290,"s":"TYC 2583-543-1"},{"t":0.4511,"m":12.5270,"s":"TYC 2583-543-1"},
{"t":0.4516,"m":12.5320,"s":"TYC 2583-543-1"},{"t":0.4521,"m":12.5380,"s":"TYC 2583-543-1"},{"t":0.4526,"m":12.5280,"s":"TYC 2583-543-1"},{"t":0.4531,"m":12.5250,"s":"TYC 2583-543-1"},{"t":0.4537,"m":12.5300,"s":"TYC 2583-543-1"},{"t":0.4541,"m":12.5270,"s":"TYC 2583-543-1"},{"t":0.4546,"m":12.5330,"s":"TYC 2583-543-1"},{"t":0.4552,"m":12.5260,"s":"TYC 2583-543-1"},{"t":0.4556,"m":12.5290,"s":"TYC 2583-543-1"},{"t":0.4561,"m":12.5240,"s":"TYC 2583-543-1"},
{"t":0.4566,"m":12.5280,"s":"TYC 2583-543-1"},{"t":0.4572,"m":12.5310,"s":"TYC 2583-543-1"},{"t":0.4578,"m":12.5260,"s":"TYC 2583-543-1"},{"t":0.4582,"m":12.5300,"s":"TYC 2583-543-1"},{"t":0.4587,"m":12.5370,"s":"TYC 2583-543-1"},{"t":0.4593,"m":12.5340,"s":"TYC 2583-543-1"},{"t":0.4598,"m":12.5380,"s":"TYC 2583-543-1"},{"t":0.4603,"m":12.5290,"s":"TYC 2583-543-1"},{"t":0.4607,"m":12.5350,"s":"TYC 2583-543-1"},{"t":0.4613,"m":12.5270,"s":"TYC 2583-543-1"},
{"t":0.4618,"m":12.5300,"s":"TYC 2583-543-1"},{"t":0.4622,"m":12.5260,"s":"TYC 2583-543-1"},{"t":0.4628,"m":12.5290,"s":"TYC 2583-543-1"},{"t":0.4633,"m":12.5240,"s":"TYC 2583-543-1"},{"t":0.4638,"m":12.5280,"s":"TYC 2583-543-1"},{"t":0.4642,"m":12.5250,"s":"TYC 2583-543-1"},{"t":0.4648,"m":12.5300,"s":"TYC 2583-543-1"},{"t":0.4653,"m":12.5270,"s":"TYC 2583-543-1"},{"t":0.4658,"m":12.5230,"s":"TYC 2583-543-1"},{"t":0.4663,"m":12.5290,"s":"TYC 2583-543-1"},
{"t":0.4668,"m":12.5260,"s":"TYC 2583-543-1"},{"t":0.4674,"m":12.5310,"s":"TYC 2583-543-1"},{"t":0.4678,"m":12.5250,"s":"TYC 2583-543-1"},{"t":0.4683,"m":12.5280,"s":"TYC 2583-543-1"},{"t":0.4688,"m":12.5220,"s":"TYC 2583-543-1"},{"t":0.4694,"m":12.5300,"s":"TYC 2583-543-1"},{"t":0.4699,"m":12.5270,"s":"TYC 2583-543-1"},{"t":0.4704,"m":12.5240,"s":"TYC 2583-543-1"},{"t":0.4709,"m":12.5290,"s":"TYC 2583-543-1"},{"t":0.4715,"m":12.5260,"s":"TYC 2583-543-1"},
{"t":0.4718,"m":12.5330,"s":"TYC 2583-543-1"},{"t":0.4724,"m":12.5350,"s":"TYC 2583-543-1"},{"t":0.4730,"m":12.5280,"s":"TYC 2583-543-1"},{"t":0.4735,"m":12.5250,"s":"TYC 2583-543-1"},{"t":0.4739,"m":12.5300,"s":"TYC 2583-543-1"},{"t":0.4745,"m":12.5230,"s":"TYC 2583-543-1"},{"t":0.4750,"m":12.5270,"s":"TYC 2583-543-1"},{"t":0.4755,"m":12.5160,"s":"TYC 2583-543-1"},{"t":0.4760,"m":12.5290,"s":"TYC 2583-543-1"},{"t":0.4765,"m":12.5250,"s":"TYC 2583-543-1"},
{"t":0.4771,"m":12.5220,"s":"TYC 2583-543-1"},{"t":0.4776,"m":12.5280,"s":"TYC 2583-543-1"},{"t":0.4779,"m":12.5240,"s":"TYC 2583-543-1"},{"t":0.4785,"m":12.5300,"s":"TYC 2583-543-1"},{"t":0.4791,"m":12.5260,"s":"TYC 2583-543-1"},{"t":0.4796,"m":12.5230,"s":"TYC 2583-543-1"},{"t":0.4800,"m":12.5290,"s":"TYC 2583-543-1"},{"t":0.4806,"m":12.5250,"s":"TYC 2583-543-1"},{"t":0.4812,"m":12.5200,"s":"TYC 2583-543-1"},{"t":0.4816,"m":12.5280,"s":"TYC 2583-543-1"},
{"t":0.4820,"m":12.5250,"s":"TYC 2583-543-1"},{"t":0.4826,"m":12.5310,"s":"TYC 2583-543-1"},{"t":0.4831,"m":12.5230,"s":"TYC 2583-543-1"},{"t":0.4837,"m":12.5270,"s":"TYC 2583-543-1"},{"t":0.4841,"m":12.5210,"s":"TYC 2583-543-1"},{"t":0.4846,"m":12.5290,"s":"TYC 2583-543-1"},{"t":0.4852,"m":12.5250,"s":"TYC 2583-543-1"},{"t":0.4856,"m":12.5280,"s":"TYC 2583-543-1"},{"t":0.4861,"m":12.5230,"s":"TYC 2583-543-1"},{"t":0.4867,"m":12.5300,"s":"TYC 2583-543-1"},
{"t":0.4872,"m":12.5260,"s":"TYC 2583-543-1"},{"t":0.4876,"m":12.5220,"s":"TYC 2583-543-1"},{"t":0.4881,"m":12.5290,"s":"TYC 2583-543-1"},{"t":0.4886,"m":12.5170,"s":"TYC 2583-543-1"},{"t":0.4892,"m":12.5250,"s":"TYC 2583-543-1"},{"t":0.4898,"m":12.5280,"s":"TYC 2583-543-1"},{"t":0.4902,"m":12.5230,"s":"TYC 2583-543-1"},{"t":0.4907,"m":12.5300,"s":"TYC 2583-543-1"},{"t":0.4912,"m":12.5260,"s":"TYC 2583-543-1"},{"t":0.4916,"m":12.5240,"s":"TYC 2583-543-1"},
{"t":0.4922,"m":12.5290,"s":"TYC 2583-543-1"},{"t":0.4927,"m":12.5230,"s":"TYC 2583-543-1"},{"t":0.4932,"m":12.5270,"s":"TYC 2583-543-1"},{"t":0.4937,"m":12.5200,"s":"TYC 2583-543-1"},{"t":0.4942,"m":12.5310,"s":"TYC 2583-543-1"},{"t":0.4948,"m":12.5250,"s":"TYC 2583-543-1"},{"t":0.4953,"m":12.5280,"s":"TYC 2583-543-1"},{"t":0.4957,"m":12.5220,"s":"TYC 2583-543-1"},{"t":0.4962,"m":12.5150,"s":"TYC 2583-543-1"},{"t":0.4968,"m":12.5260,"s":"TYC 2583-543-1"},{"t":0.4973,"m":12.5270,"s":"TYC 2583-543-1"},{"t":0.4977,"m":12.5150,"s":"TYC 2583-543-1"}
]},
"mark": {"type": "circle", "size": 20, "opacity": 1},
"encoding": {
  "x": {"field": "t", "type": "quantitative",
        "scale": {"domain": [0.37057, 0.5038], "nice": false, "zero": false},
        "axis": {"title": "Geocentric Julian Date (UTC) - 2459380", "values": [0.38, 0.40, 0.42, 0.44, 0.46, 0.48, 0.50], "format": ".2f", "labelPadding": 12, "titlePadding": 3, "titleX": 413, "titleAlign": "center"}},
  "y": {"field": "m", "type": "quantitative",
        "scale": {"domain": [12.1973, 12.5592], "reverse": true, "nice": false, "zero": false},
        "axis": {"title": null, "values": [12.20, 12.25, 12.30, 12.35, 12.40, 12.45, 12.50, 12.55], "format": ".2f", "labelPadding": 8}},
  "color": {"field": "s", "type": "nominal",
        "scale": {"domain": ["AU CrB", "TYC 2580-1246-1", "TYC 2583-543-1"], "range": ["#0000ff", "#ff0000", "#00e000"]},
        "legend": {"title": null, "orient": "none", "legendX": 194, "legendY": 14, "symbolType": "circle", "symbolSize": 20, "labelFontSize": 13, "rowPadding": 3.5, "labelOffset": 4,
                   "encode": {"labels": {"update": {"fill": {"scale": "color", "field": "value"}}}}}}
}
}
